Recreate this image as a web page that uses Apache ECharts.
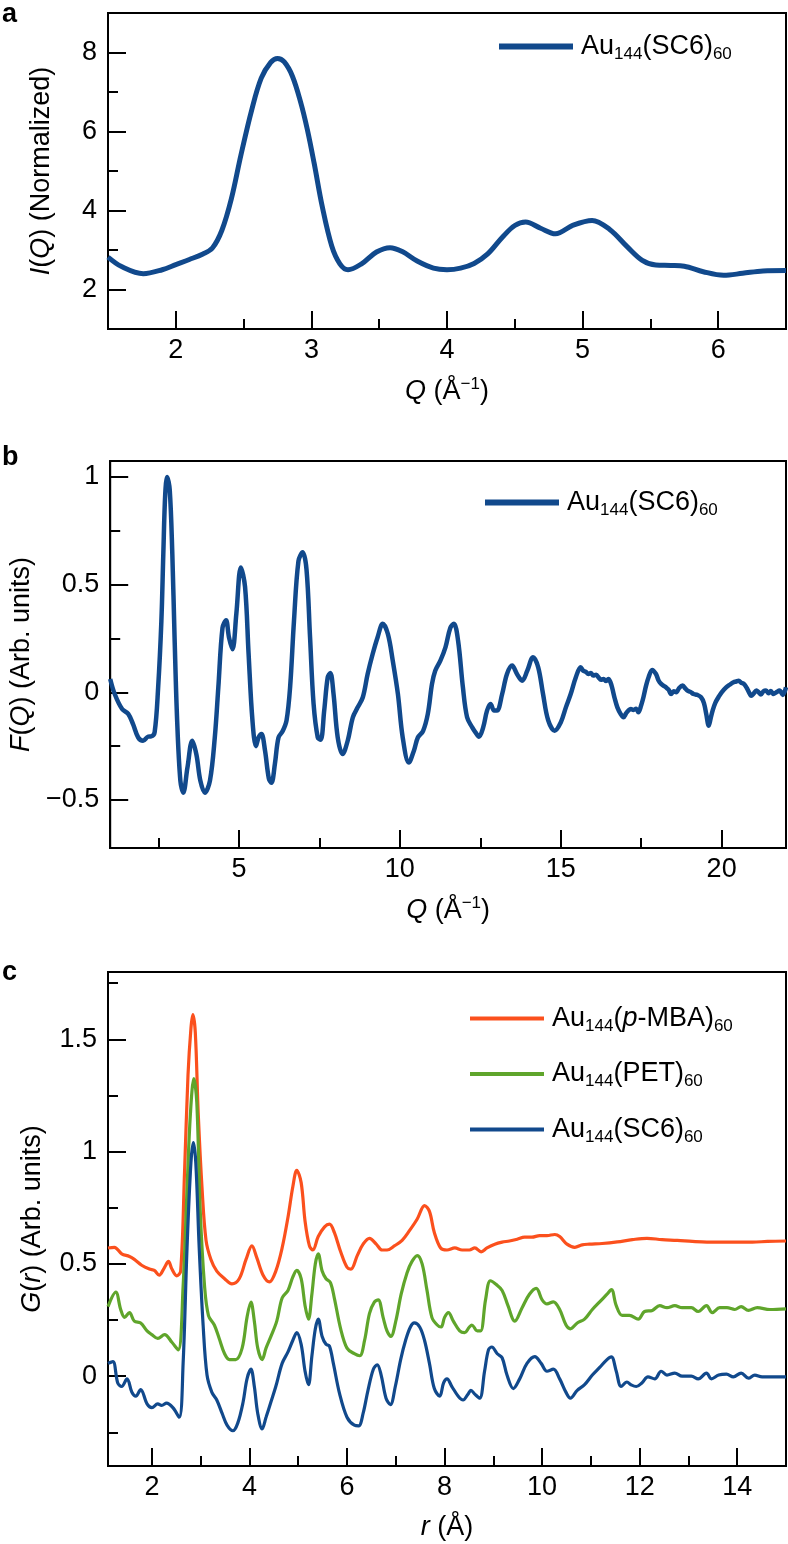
<!DOCTYPE html>
<html><head><meta charset="utf-8">
<script src="https://cdn.jsdelivr.net/npm/echarts@6/dist/echarts.min.js"></script>
<style>html,body{margin:0;padding:0;background:#fff}#c{width:788px;height:1544px}</style>
</head><body><div id="c"></div>
<script>
// ---------- Panel a: I(Q) ----------
const aQ = [1.5,1.6,1.76,1.9,2.0,2.1,2.2,2.27,2.34,2.41,2.48,2.56,2.63,2.70,2.75,2.80,2.86,2.92,2.97,3.02,3.08,3.15,3.21,3.27,3.37,3.48,3.58,3.67,3.78,3.9,4.0,4.1,4.2,4.3,4.41,4.5,4.58,4.69,4.80,4.93,5.07,5.2,5.33,5.44,5.54,5.65,5.75,5.89,6.04,6.18,6.33,6.5];
const aI = [2.82,2.58,2.40,2.50,2.63,2.76,2.90,3.05,3.50,4.30,5.40,6.55,7.35,7.75,7.85,7.76,7.40,6.75,6.05,5.20,4.10,3.10,2.65,2.50,2.65,2.95,3.06,2.96,2.72,2.54,2.50,2.54,2.66,2.90,3.33,3.62,3.71,3.55,3.41,3.63,3.75,3.52,3.08,2.74,2.62,2.61,2.59,2.45,2.36,2.41,2.47,2.48];

// ---------- Panel b: F(Q) ----------
const bQ = [1.0,1.14,1.37,1.56,1.71,1.87,2.02,2.18,2.27,2.38,2.49,2.59,2.65,2.71,2.77,2.85,2.93,3.0,3.08,3.18,3.27,3.4,3.55,3.68,3.8,3.94,4.1,4.25,4.36,4.49,4.6,4.69,4.8,4.92,5.06,5.19,5.3,5.42,5.53,5.61,5.7,5.81,5.93,6.01,6.12,6.23,6.36,6.48,6.59,6.71,6.85,6.98,7.1,7.21,7.32,7.45,7.54,7.65,7.76,7.84,7.94,8.07,8.22,8.38,8.54,8.69,8.85,9.0,9.16,9.31,9.47,9.63,9.78,9.94,10.09,10.28,10.44,10.56,10.72,10.87,11.0,11.1,11.26,11.42,11.57,11.68,11.81,11.96,12.09,12.25,12.35,12.46,12.59,12.71,12.82,12.93,13.02,13.18,13.33,13.49,13.64,13.8,13.96,14.14,14.3,14.45,14.61,14.81,15.0,15.16,15.31,15.47,15.62,15.7,15.78,15.86,15.94,16.01,16.1,16.18,16.25,16.33,16.41,16.48,16.55,16.6,16.68,16.76,16.86,16.95,17.03,17.1,17.18,17.26,17.34,17.41,17.5,17.57,17.65,17.73,17.84,17.96,18.04,18.12,18.2,18.27,18.35,18.43,18.51,18.59,18.68,18.79,18.87,18.94,19.03,19.13,19.24,19.36,19.45,19.52,19.6,19.66,19.72,19.8,19.9,20.0,20.14,20.25,20.37,20.45,20.53,20.6,20.69,20.78,20.85,20.92,21.0,21.08,21.15,21.22,21.3,21.38,21.46,21.53,21.61,21.7,21.8,21.9,22.0];
const bF = [0.062,-0.008,-0.078,-0.10,-0.148,-0.21,-0.225,-0.206,-0.205,-0.186,0.023,0.33,0.64,0.92,1.0,0.94,0.644,0.256,-0.13,-0.41,-0.466,-0.35,-0.225,-0.29,-0.41,-0.466,-0.41,-0.21,0.023,0.30,0.334,0.256,0.20,0.365,0.58,0.49,0.18,-0.13,-0.25,-0.21,-0.194,-0.27,-0.40,-0.42,-0.33,-0.21,-0.18,-0.13,0.023,0.33,0.61,0.65,0.57,0.256,-0.054,-0.21,-0.22,-0.085,0.07,0.09,-0.008,-0.21,-0.287,-0.225,-0.116,-0.07,-0.023,0.085,0.18,0.256,0.318,0.27,0.147,-0.008,-0.21,-0.326,-0.27,-0.21,-0.18,-0.10,0.039,0.1,0.147,0.21,0.30,0.318,0.24,0.023,-0.116,-0.163,-0.186,-0.206,-0.163,-0.085,-0.054,-0.085,-0.085,-0.008,0.085,0.124,0.085,0.054,0.1,0.163,0.116,-0.008,-0.13,-0.178,-0.14,-0.07,-0.008,0.07,0.116,0.10,0.095,0.085,0.09,0.078,0.082,0.068,0.058,0.062,0.052,0.062,0.045,0.02,-0.03,-0.07,-0.1,-0.116,-0.098,-0.085,-0.078,-0.082,-0.076,-0.093,-0.06,-0.023,0.03,0.07,0.104,0.085,0.055,0.039,0.03,0.023,0.012,-0.008,0.005,0.0,0.02,0.031,0.018,0.008,0.002,-0.008,-0.012,-0.023,-0.05,-0.1,-0.155,-0.12,-0.085,-0.05,-0.023,0.0,0.023,0.035,0.047,0.05,0.054,0.045,0.039,0.02,0.0,-0.016,-0.005,0.008,0.0,-0.01,0.005,0.008,-0.005,0.006,-0.008,0.0,0.008,-0.012,0.023];

// ---------- Panel c: G(r) ----------
const cR_sc6 = [1.1,1.2,1.3,1.38,1.49,1.59,1.67,1.77,1.9,2.0,2.12,2.2,2.3,2.43,2.56,2.64,2.72,2.8,2.85,2.9,2.97,3.05,3.13,3.23,3.33,3.44,3.54,3.66,3.76,3.87,3.95,4.03,4.1,4.17,4.26,4.34,4.44,4.54,4.67,4.79,4.89,4.97,5.06,5.14,5.21,5.28,5.35,5.41,5.49,5.57,5.64,5.72,5.85,6.0,6.15,6.24,6.33,6.43,6.54,6.62,6.7,6.8,6.89,6.99,7.1,7.2,7.3,7.38,7.49,7.59,7.69,7.79,7.9,7.98,8.05,8.15,8.28,8.38,8.48,8.54,8.62,8.72,8.82,8.9,8.97,9.08,9.18,9.28,9.41,9.54,9.69,9.85,9.98,10.1,10.23,10.36,10.49,10.58,10.72,10.87,11.03,11.18,11.33,11.42,11.52,11.62,11.74,11.82,11.93,12.05,12.17,12.31,12.44,12.56,12.72,12.87,13.06,13.2,13.37,13.47,13.62,13.78,13.92,14.08,14.23,14.36,14.51,14.72,15.0];
const cG_sc6 = [0.057,0.065,-0.03,-0.046,-0.012,-0.072,-0.089,-0.06,-0.123,-0.14,-0.123,-0.13,-0.12,-0.14,-0.183,0.057,0.57,0.95,1.04,0.95,0.57,0.228,0.005,-0.072,-0.106,-0.166,-0.218,-0.243,-0.209,-0.115,-0.012,0.031,-0.046,-0.166,-0.235,-0.183,-0.115,-0.046,0.057,0.108,0.16,0.194,0.142,0.022,-0.038,0.09,0.21,0.254,0.177,0.142,0.134,0.057,-0.08,-0.183,-0.218,-0.221,-0.166,-0.063,0.031,0.051,0.005,-0.098,-0.127,-0.046,0.074,0.159,0.219,0.237,0.219,0.159,0.057,-0.055,-0.089,-0.03,-0.012,-0.046,-0.089,-0.106,-0.08,-0.063,-0.08,-0.098,0.022,0.117,0.13,0.1,0.082,0.005,-0.055,-0.012,0.057,0.087,0.057,0.022,0.031,-0.012,-0.072,-0.098,-0.063,-0.038,0.005,0.039,0.074,0.086,0.022,-0.046,-0.026,-0.038,-0.046,-0.029,-0.003,-0.012,0.022,0.005,0.014,0.0,0.0,-0.012,0.014,-0.012,0.005,0.009,-0.003,0.014,-0.009,0.005,-0.003,-0.003,-0.003];

const cR_pet = [1.1,1.26,1.36,1.44,1.54,1.64,1.77,1.9,2.0,2.12,2.26,2.41,2.54,2.64,2.72,2.79,2.86,2.92,2.99,3.08,3.16,3.28,3.38,3.49,3.59,3.72,3.85,3.95,4.03,4.1,4.17,4.26,4.34,4.44,4.56,4.67,4.79,4.89,4.97,5.06,5.14,5.21,5.28,5.35,5.41,5.49,5.57,5.66,5.74,5.87,6.0,6.15,6.26,6.36,6.46,6.56,6.64,6.74,6.82,6.9,7.0,7.11,7.23,7.33,7.44,7.54,7.64,7.74,7.85,7.93,8.0,8.08,8.18,8.31,8.41,8.51,8.56,8.67,8.74,8.84,8.94,9.06,9.18,9.3,9.44,9.59,9.74,9.88,10.0,10.1,10.23,10.36,10.49,10.58,10.72,10.87,11.03,11.18,11.33,11.42,11.52,11.64,11.79,11.97,12.1,12.26,12.41,12.56,12.72,12.87,13.06,13.2,13.37,13.49,13.64,13.79,13.95,14.08,14.23,14.41,14.67,15.0];
const cG_pet = [0.31,0.374,0.297,0.262,0.283,0.245,0.237,0.202,0.185,0.168,0.185,0.151,0.117,0.40,0.83,1.17,1.325,1.22,0.74,0.40,0.27,0.228,0.168,0.1,0.074,0.074,0.125,0.262,0.33,0.245,0.125,0.074,0.125,0.177,0.245,0.348,0.382,0.442,0.471,0.434,0.314,0.254,0.365,0.50,0.545,0.468,0.434,0.417,0.348,0.211,0.125,0.1,0.091,0.159,0.279,0.33,0.34,0.262,0.202,0.177,0.245,0.365,0.46,0.51,0.537,0.50,0.382,0.262,0.228,0.219,0.262,0.283,0.245,0.202,0.194,0.219,0.228,0.202,0.202,0.34,0.425,0.408,0.382,0.314,0.245,0.305,0.365,0.391,0.34,0.322,0.331,0.297,0.228,0.211,0.237,0.254,0.297,0.331,0.365,0.386,0.314,0.271,0.271,0.254,0.288,0.293,0.314,0.305,0.314,0.305,0.305,0.288,0.314,0.283,0.305,0.305,0.297,0.31,0.293,0.305,0.297,0.30];

const cR_mba = [1.1,1.23,1.38,1.54,1.64,1.79,1.95,2.05,2.15,2.26,2.34,2.41,2.51,2.59,2.67,2.74,2.8,2.84,2.89,2.95,3.03,3.11,3.21,3.33,3.49,3.64,3.79,3.93,4.05,4.15,4.28,4.41,4.54,4.67,4.79,4.89,4.97,5.06,5.14,5.23,5.3,5.41,5.54,5.64,5.74,5.87,6.0,6.08,6.21,6.33,6.46,6.6,6.72,6.82,6.97,7.13,7.28,7.44,7.59,7.69,7.79,7.92,8.05,8.21,8.36,8.51,8.62,8.75,8.87,9.03,9.18,9.33,9.49,9.64,9.79,9.95,10.1,10.26,10.36,10.51,10.67,10.82,10.97,11.23,11.54,11.85,12.15,12.46,12.77,13.08,13.38,13.69,14.0,14.31,14.62,15.0];
const cG_mba = [0.571,0.574,0.545,0.533,0.52,0.494,0.477,0.471,0.45,0.485,0.511,0.477,0.447,0.468,0.914,1.34,1.548,1.61,1.53,1.17,0.83,0.605,0.52,0.468,0.434,0.411,0.434,0.52,0.58,0.528,0.45,0.42,0.468,0.571,0.708,0.845,0.917,0.862,0.69,0.58,0.562,0.622,0.665,0.677,0.64,0.554,0.485,0.477,0.537,0.588,0.614,0.588,0.562,0.562,0.58,0.605,0.648,0.70,0.76,0.734,0.64,0.571,0.562,0.571,0.562,0.562,0.571,0.554,0.571,0.588,0.597,0.602,0.61,0.619,0.619,0.626,0.626,0.631,0.622,0.588,0.574,0.585,0.588,0.591,0.598,0.608,0.614,0.608,0.605,0.6,0.597,0.597,0.597,0.597,0.6,0.602];

// ---------- ticks ----------
const aXMajor = [2,3,4,5,6], aXMinor = [2.5,3.5,4.5,5.5];
const aYMajor = [2,4,6,8], aYMinor = [3,5,7];
const bXMajor = [5,10,15,20], bXMinor = [2.5,7.5,12.5,17.5];
const bYMajor = [-0.5,0,0.5,1], bYMinor = [-0.25,0.25,0.75];
const cXMajor = [2,4,6,8,10,12,14], cXMinor = [3,5,7,9,11,13];
const cYMajor = [0,0.5,1,1.5], cYMinor = [-0.25,0.25,0.75,1.25,1.75];

const FONT = '"Liberation Sans", Arial, sans-serif';
const FS = 27, FSS = 17;
const BLUE = '#11498c', GREEN = '#5fa52b', ORANGE = '#fb501d';

function zip(xs, ys){ return xs.map((x,i)=>[x, ys[i]]); }
const fmt = v => v < 0 ? '\u2212' + Math.abs(v) : String(v);
const richName = {
  i:{fontStyle:'italic', fontSize:FS, fontFamily:FONT, color:'#000'},
  sup:{fontSize:FSS, fontFamily:FONT, color:'#000', padding:[0,0,14,0]}
};

function majorAxis(gi, pos, min, max, major, name, nameGap, margin){
  return {
    type:'value', gridIndex:gi, position:pos, min:min, max:max,
    axisLine:{show:true, onZero:false, lineStyle:{color:'#000', width:2}},
    axisTick:{show:true, inside:true, length:18, customValues:major, lineStyle:{color:'#000', width:2}},
    axisLabel:{show:true, margin:margin, customValues:major, formatter:fmt, fontSize:FS, fontFamily:FONT, color:'#000'},
    splitLine:{show:false},
    name:name, nameLocation:'middle', nameGap:nameGap,
    nameTextStyle:{fontSize:FS, fontFamily:FONT, color:'#000', rich:richName}
  };
}
function minorAxis(gi, pos, min, max, minor){
  return {
    type:'value', gridIndex:gi, position:pos, min:min, max:max,
    axisLine:{show:false, onZero:false},
    axisTick:{show:true, inside:true, length:10, customValues:minor, lineStyle:{color:'#000', width:2}},
    axisLabel:{show:false}, splitLine:{show:false}
  };
}

const xName = '{i|Q} (Å{sup|\u22121})';
const xAxes = [
  majorAxis(0, 'bottom', 1.5, 6.5, aXMajor, xName, 47, 8), minorAxis(0, 'bottom', 1.5, 6.5, aXMinor),
  majorAxis(1, 'bottom', 1, 22, bXMajor, xName, 47, 8), minorAxis(1, 'bottom', 1, 22, bXMinor),
  majorAxis(2, 'bottom', 1.1, 15, cXMajor, '{i|r} (Å)', 48, 8), minorAxis(2, 'bottom', 1.1, 15, cXMinor)
];
const yAxes = [
  majorAxis(0, 'left', 1, 9, aYMajor, '{i|I}({i|Q}) (Normalized)', 53, 11), minorAxis(0, 'left', 1, 9, aYMinor),
  majorAxis(1, 'left', -0.723, 1.074, bYMajor, '{i|F}({i|Q}) (Arb. units)', 72, 11), minorAxis(1, 'left', -0.723, 1.074, bYMinor),
  majorAxis(2, 'left', -0.4, 1.8, cYMajor, '{i|G}({i|r}) (Arb. units)', 62, 11), minorAxis(2, 'left', -0.4, 1.8, cYMinor)
];

const legendText = {
  'a-SC6':'Au{s|144}(SC6){s|60}',
  'b-SC6':'Au{s|144}(SC6){s|60}',
  'c-MBA':'Au{s|144}({i|p}-MBA){s|60}',
  'c-PET':'Au{s|144}(PET){s|60}',
  'c-SC6':'Au{s|144}(SC6){s|60}'
};
const legendTextStyle = {
  fontSize:FS, fontFamily:FONT, color:'#000', padding:[0,0,0,3],
  rich:{
    s:{fontSize:FSS, fontFamily:FONT, color:'#000', padding:[15,0,0,0]},
    i:{fontSize:FS, fontFamily:FONT, color:'#000', fontStyle:'italic'}
  }
};
function legend(names, left, top, h){
  return {orient:'vertical', left:left, top:top, data:names, icon:'rect',
    itemWidth:74, itemHeight:h, itemGap:26, selectedMode:false, padding:0,
    formatter:n => legendText[n], textStyle:legendTextStyle};
}
function line(name, xi, yi, data, color, w){
  return {name:name, type:'line', xAxisIndex:xi, yAxisIndex:yi, data:data,
    showSymbol:false, symbol:'none', smooth:0.35, color:color,
    lineStyle:{color:color, width:w}};
}

const option = {
  animation:false,
  backgroundColor:'#fff',
  grid:[
    {left:108, top:13, width:678, height:316, show:true, borderColor:'#000', borderWidth:2},
    {left:108, top:461, width:678, height:387, show:true, borderColor:'#000', borderWidth:2},
    {left:108, top:972, width:678, height:494, show:true, borderColor:'#000', borderWidth:2}
  ],
  xAxis:xAxes, yAxis:yAxes,
  legend:[
    legend(['a-SC6'], 499, 33, 6),
    legend(['b-SC6'], 485, 489, 6),
    legend(['c-MBA','c-PET','c-SC6'], 470, 1005, 4)
  ],
  series:[
    line('a-SC6', 0, 0, zip(aQ, aI), BLUE, 5),
    line('b-SC6', 2, 2, zip(bQ, bF), BLUE, 4.5),
    line('c-MBA', 4, 4, zip(cR_mba, cG_mba), ORANGE, 3.2),
    line('c-PET', 4, 4, zip(cR_pet, cG_pet), GREEN, 3.2),
    line('c-SC6', 4, 4, zip(cR_sc6, cG_sc6), BLUE, 3.2)
  ],
  graphic:[
    {type:'text', left:2, top:1, style:{text:'a', font:'bold 27px "Liberation Sans", Arial, sans-serif', fill:'#000'}},
    {type:'text', left:2, top:444, style:{text:'b', font:'bold 27px "Liberation Sans", Arial, sans-serif', fill:'#000'}},
    {type:'text', left:2, top:959, style:{text:'c', font:'bold 27px "Liberation Sans", Arial, sans-serif', fill:'#000'}}
  ]
};
const chart = echarts.init(document.getElementById('c'), null, {renderer:'canvas'});
chart.setOption(option);
</script></body></html>
